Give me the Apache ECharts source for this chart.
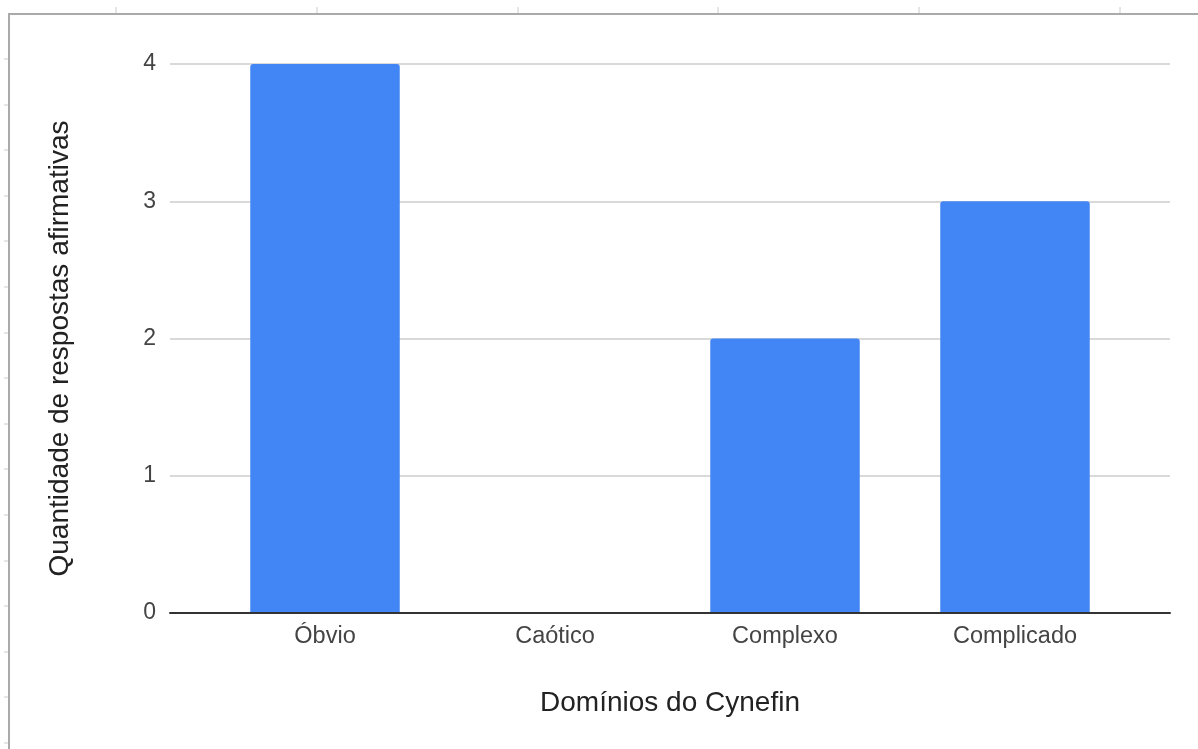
<!DOCTYPE html>
<html>
<head>
<meta charset="utf-8">
<title>Domínios do Cynefin</title>
<script src="https://cdn.jsdelivr.net/npm/echarts@6/dist/echarts.min.js"></script>
<style>
  html, body { margin: 0; padding: 0; background: #fff; }
  #chart { width: 1198px; height: 749px; }
</style>
</head>
<body>
<div id="chart"></div>
<script>
// Categories and values
const categories = ['Óbvio', 'Caótico', 'Complexo', 'Complicado'];
const respostas = [4, 0, 2, 3];
const yTicks = { min: 0, max: 4, interval: 1 };

const xTitle = 'Domínios do Cynefin';
const yTitle = 'Quantidade de respostas afirmativas';

const FONT = 'Arial, "Liberation Sans", sans-serif';

// Sheet frame around the chart (cell borders and column/row markers)
function frameGraphics() {
  const g = [];
  g.push({ type: 'line', silent: true, shape: { x1: 8, y1: 14, x2: 1198, y2: 14 },
           style: { stroke: '#aaaaaa', lineWidth: 2 } });
  g.push({ type: 'line', silent: true, shape: { x1: 9, y1: 13, x2: 9, y2: 749 },
           style: { stroke: '#aaaaaa', lineWidth: 2 } });
  [116, 317, 518, 718, 919, 1120].forEach(function (x) {
    g.push({ type: 'line', silent: true, shape: { x1: x, y1: 7, x2: x, y2: 13 },
             style: { stroke: '#cccccc', lineWidth: 1 } });
  });
  for (let y = 59; y < 749; y += 45.6) {
    g.push({ type: 'line', silent: true, shape: { x1: 4, y1: Math.round(y), x2: 8, y2: Math.round(y) },
             style: { stroke: '#cccccc', lineWidth: 1 } });
  }
  return g;
}

const chart = echarts.init(document.getElementById('chart'), null, { renderer: 'canvas' });

chart.setOption({
  backgroundColor: '#ffffff',
  animation: false,
  textStyle: { fontFamily: FONT },
  graphic: frameGraphics(),
  grid: [
    // frame grid: gridlines and baseline span the full plot width
    { left: 170, right: 28, top: 64, bottom: 136 },
    // bar grid: categories inset from the plot edges
    { left: 210, right: 68, top: 64, bottom: 136 }
  ],
  xAxis: [
    {
      gridIndex: 0, type: 'value', min: 0, max: 1, z: 10,
      axisLine: { show: true, lineStyle: { color: '#333333', width: 2 } },
      axisTick: { show: false }, axisLabel: { show: false }, splitLine: { show: false }
    },
    {
      gridIndex: 1, type: 'category', data: categories,
      axisLine: { show: false }, axisTick: { show: false },
      axisLabel: { color: '#444444', fontSize: 23.5, margin: 12, fontFamily: FONT },
      name: xTitle, nameLocation: 'middle', nameGap: 76,
      nameTextStyle: { color: '#222222', fontSize: 28, fontFamily: FONT }
    }
  ],
  yAxis: [
    {
      gridIndex: 0, type: 'value', min: yTicks.min, max: yTicks.max, interval: yTicks.interval,
      axisLine: { show: false }, axisTick: { show: false },
      axisLabel: { color: '#444444', fontSize: 23, margin: 14, fontFamily: FONT },
      splitLine: { show: true, lineStyle: { color: '#d9d9d9', width: 2 } },
      name: yTitle, nameLocation: 'middle', nameGap: 96, nameRotate: 90,
      nameTextStyle: { color: '#222222', fontSize: 28, fontFamily: FONT, padding: [0, 20, 0, 0] }
    },
    {
      gridIndex: 1, type: 'value', min: yTicks.min, max: yTicks.max, interval: yTicks.interval,
      show: false, splitLine: { show: false }
    }
  ],
  series: [
    {
      type: 'bar', xAxisIndex: 1, yAxisIndex: 1,
      data: respostas,
      barWidth: '65%',
      itemStyle: { color: '#4285f4', borderRadius: [3, 3, 0, 0] }
    }
  ]
});
</script>
</body>
</html>
